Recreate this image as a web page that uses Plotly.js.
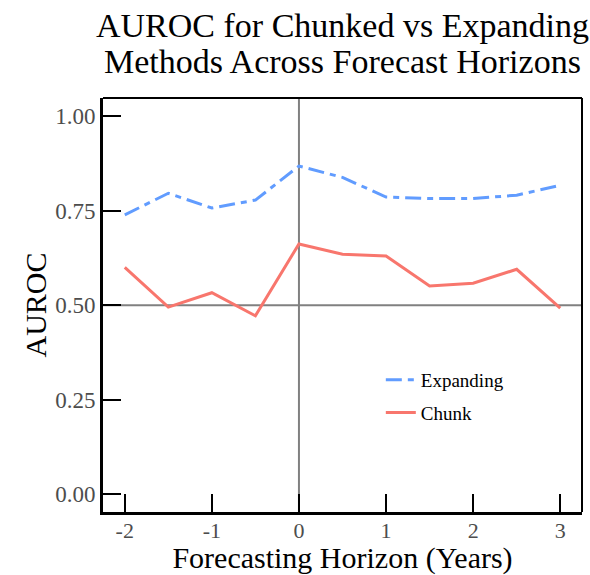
<!DOCTYPE html>
<html>
<head>
<meta charset="utf-8">
<script src="https://cdn.plot.ly/plotly-3.0.1.min.js"></script>
<style>html,body{margin:0;padding:0;background:#fff;}#chart{width:590px;height:575px;}</style>
</head>
<body>
<div id="chart"></div>
<script>
const horizon = [-2, -1.5, -1, -0.5, 0, 0.5, 1, 1.5, 2, 2.5, 3];
const expanding = [0.739, 0.796, 0.757, 0.778, 0.868, 0.838, 0.786, 0.782, 0.782, 0.791, 0.817];
const chunk = [0.600, 0.495, 0.533, 0.472, 0.662, 0.635, 0.630, 0.551, 0.558, 0.595, 0.492];
const xTicks = [-2, -1, 0, 1, 2, 3];
const xTickLabels = ['-2', '-1', '0', '1', '2', '3'];
const yTicks = [0, 0.25, 0.5, 0.75, 1];
const yTickLabels = ['0.00', '0.25', '0.50', '0.75', '1.00'];
const titleLines = ['AUROC for Chunked vs Expanding', 'Methods Across Forecast Horizons'];

const serif = 'Liberation Serif, Times New Roman, serif';

const traces = [
  {x: horizon, y: expanding, name: 'Expanding', mode: 'lines', legendgroup: 'a',
   line: {color: '#619CFF', width: 3, dash: '16px,6px,6px,6px'}},
  {x: horizon, y: chunk, name: 'Chunk', mode: 'lines', legendgroup: 'b',
   line: {color: '#F8766D', width: 3}}
];

const layout = {
  width: 590, height: 575,
  margin: {l: 103, r: 8, t: 98, b: 63},
  paper_bgcolor: '#fff', plot_bgcolor: '#fff',
  font: {family: serif, color: '#000'},
  title: {text: titleLines[0],
          font: {family: serif, size: 34, color: '#000'},
          xref: 'paper', x: 0.5, xanchor: 'center',
          yref: 'paper', y: 1, yanchor: 'bottom', pad: {b: 61}},
  annotations: [
    {text: titleLines[1], xref: 'paper', yref: 'paper', x: 0.5, y: 1,
     xanchor: 'center', yanchor: 'bottom', yshift: 16, showarrow: false,
     font: {family: serif, size: 34, color: '#000'}}
  ],
  xaxis: {range: [-2.25, 3.25], tickvals: xTicks, ticktext: xTickLabels,
          ticks: 'inside', ticklen: 18, tickwidth: 2, tickcolor: '#000',
          showgrid: false, zeroline: false, showline: true, linecolor: '#000', linewidth: 3,
          ticklabelstandoff: -3,
          tickfont: {family: serif, size: 22, color: '#4D4D4D'},
          title: {text: 'Forecasting Horizon (Years)', font: {family: serif, size: 30, color: '#000'}, standoff: 5}},
  yaxis: {range: [-0.047, 1.048], tickvals: yTicks, ticktext: yTickLabels,
          ticks: 'inside', ticklen: 18, tickwidth: 2, tickcolor: '#000',
          showgrid: false, zeroline: false, showline: true, linecolor: '#000', linewidth: 3,
          tickfont: {family: serif, size: 23, color: '#4D4D4D'},
          title: {text: 'AUROC', font: {family: serif, size: 30, color: '#000'}, standoff: 0}},
  showlegend: true,
  legend: {x: 0.58, y: 0.365, xanchor: 'left', yanchor: 'top', bgcolor: 'rgba(0,0,0,0)',
           font: {family: serif, size: 19, color: '#000'}, tracegroupgap: 5, traceorder: 'grouped'},
  shapes: [
    {type: 'line', xref: 'x', yref: 'paper', x0: 0, x1: 0, y0: 0, y1: 1, line: {color: '#808080', width: 2}, layer: 'below'},
    {type: 'line', xref: 'paper', yref: 'y', x0: 0, x1: 1, y0: 0.5, y1: 0.5, line: {color: '#808080', width: 2}, layer: 'below'},
    {type: 'line', xref: 'paper', yref: 'paper', x0: 0, x1: 1, y0: 1, y1: 1, line: {color: '#000', width: 2}},
    {type: 'line', xref: 'paper', yref: 'paper', x0: 1, x1: 1, y0: 0, y1: 1, line: {color: '#000', width: 2}}
  ]
};

Plotly.newPlot('chart', traces, layout, {displayModeBar: false, staticPlot: true});
</script>
</body>
</html>
